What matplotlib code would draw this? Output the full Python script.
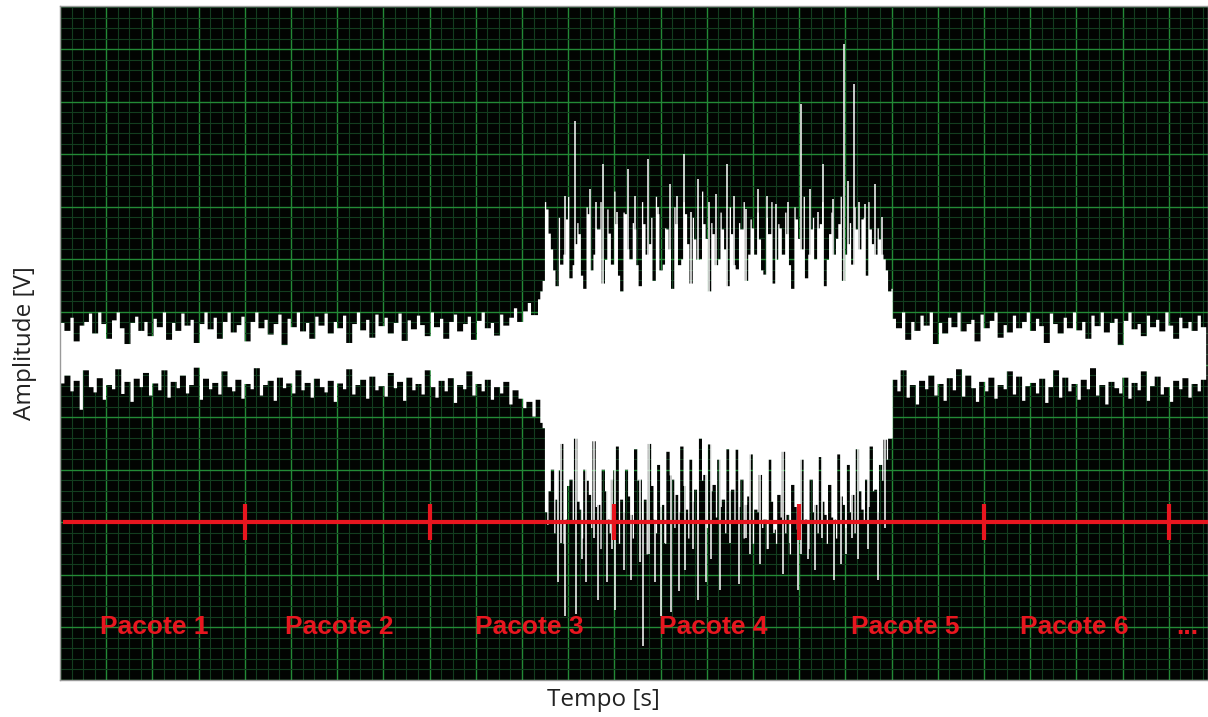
import numpy as np
import matplotlib
matplotlib.use("Agg")
import matplotlib.pyplot as plt

# ---- signal samples (amplitude offsets, in grid divisions), left quiet part ----
left_top = [0.60,0.45,0.70,0.25,0.55,0.62,0.78,0.40,0.80,0.58,
            0.30,0.65,0.80,0.50,0.20,0.60,0.72,0.45,0.62,0.35,
            0.68,0.52,0.80,0.28,0.60,0.45,0.78,0.55,0.66,0.22,
            0.58,0.80,0.48,0.70,0.30,0.62,0.80,0.42,0.56,0.72,
            0.25,0.62,0.80,0.50,0.66,0.38,0.58,0.76,0.18,0.68,
            0.52,0.80,0.44,0.60,0.30,0.72,0.55,0.78,0.40,0.62,
            0.50,0.74,0.22,0.58,0.80,0.46,0.66,0.32,0.76,0.54,
            0.70,0.40,0.60,0.78,0.26,0.65,0.48,0.74,0.56,0.35,
            0.80,0.52,0.68,0.30,0.62,0.76,0.44,0.58,0.72,0.28,
            0.64,0.80,0.50,0.60,0.36,0.76,0.55,0.70,0.88,0.62,
            0.82,0.98,0.75]
left_bot = [-0.55,-0.40,-0.70,-0.50,-1.05,-0.30,-0.62,-0.72,-0.45,-0.86,
            -0.58,-0.66,-0.28,-0.75,-0.52,-0.90,-0.46,-0.62,-0.35,-0.78,
            -0.55,-0.68,-0.30,-0.82,-0.52,-0.64,-0.40,-0.74,-0.58,-0.25,
            -0.86,-0.46,-0.66,-0.54,-0.76,-0.32,-0.62,-0.70,-0.48,-0.84,
            -0.56,-0.66,-0.26,-0.78,-0.58,-0.50,-0.88,-0.44,-0.64,-0.55,
            -0.74,-0.30,-0.68,-0.54,-0.82,-0.46,-0.62,-0.72,-0.50,-0.90,
            -0.55,-0.66,-0.28,-0.76,-0.58,-0.48,-0.84,-0.42,-0.68,-0.60,
            -0.80,-0.35,-0.64,-0.52,-0.88,-0.44,-0.68,-0.56,-0.76,-0.30,
            -0.62,-0.82,-0.50,-0.70,-0.45,-0.92,-0.58,-0.66,-0.32,-0.78,
            -0.56,-0.70,-0.48,-0.86,-0.62,-0.74,-0.52,-0.95,-0.68,-0.84,
            -1.02,-0.90,-1.18]

# ---- burst part (main samples) ----
burst_top = [1.05,1.40,2.76,2.00,1.30,1.71,2.57,1.45,2.10,2.29,
             1.25,2.67,1.90,2.38,1.35,2.76,1.71,2.48,1.20,2.67,
             1.81,2.38,1.30,2.48,2.10,1.40,2.67,1.71,2.38,1.25,
             2.48,1.81,2.67,1.35,2.19,1.81,2.48,1.20,2.29,1.81,
             2.38,1.30,2.29,1.62,2.38,1.40,2.57,1.90,2.19,1.52,
             2.29,1.35,2.48,1.90,2.29,1.25,2.57,2.00,1.45,2.38,
             1.81,2.48,1.30,2.29,1.90,2.48,1.40,2.10,1.71,2.38,
             2.57,1.50,2.38,1.90,2.19,1.81,1.20]
burst_bot = [-0.86,-1.40,-3.24,-2.19,-2.76,-1.70,-3.14,-2.38,-1.60,-2.95,
             -2.19,-2.67,-1.65,-2.86,-2.19,-3.14,-2.38,-1.75,-2.76,-2.19,
             -3.05,-1.80,-2.38,-2.76,-1.70,-3.14,-2.10,-2.86,-1.85,-2.38,
             -2.67,-1.75,-2.95,-2.00,-2.57,-1.60,-2.29,-1.71,-2.48,-2.00,
             -2.76,-1.80,-2.57,-1.81,-2.38,-2.86,-1.90,-2.95,-2.29,-3.14,
             -2.00,-3.33,-2.67,-1.85,-3.05,-2.48,-3.33,-2.00,-3.14,-2.38,
             -2.86,-1.95,-3.05,-2.48,-3.14,-1.90,-2.86,-2.10,-2.67,-1.80,
             -2.95,-2.38,-1.75,-2.57,-2.10,-1.62,-1.60]

# ---- burst part (samples in between the main ones) ----
burst_top_mid = [1.20,2.90,2.30,1.60,2.60,1.90,3.00,1.70,2.50,1.50,
                 2.80,1.60,2.40,2.90,1.80,2.30,3.10,1.50,2.70,2.00,
                 2.50,1.70,2.90,1.90,2.60,3.00,1.60,2.40,2.00,2.80,
                 1.70,2.90,2.10,2.60,1.80,3.10,2.20,2.50,1.70,2.70,
                 2.00,2.80,1.70,2.50,2.90,1.90,2.40,2.70,1.60,2.60,
                 2.90,1.80,2.40,2.70,1.70,2.80,2.20,3.00,1.90,2.60,
                 2.40,2.90,1.80,2.70,2.20,3.00,1.90,2.50,2.80,2.00,
                 2.60,2.90,2.10,2.40,1.90,1.60,1.25]
burst_bot_mid = [-1.30,-3.00,-2.60,-3.40,-2.20,-3.60,-2.50,-3.20,-2.80,-3.50,
                 -2.40,-3.30,-2.90,-3.70,-2.60,-3.40,-2.20,-3.60,-3.00,-2.70,
                 -3.50,-2.40,-3.20,-3.80,-2.50,-3.40,-2.90,-3.60,-2.30,-3.30,
                 -3.00,-2.50,-3.50,-2.80,-3.20,-2.40,-3.30,-2.60,-3.10,-2.90,
                 -3.40,-2.60,-3.20,-2.90,-3.50,-2.70,-3.60,-3.00,-3.30,-3.70,
                 -2.80,-3.60,-3.10,-3.40,-3.80,-2.90,-3.50,-3.20,-3.70,-3.00,
                 -3.40,-2.80,-3.60,-3.10,-3.50,-2.70,-3.30,-3.00,-3.40,-2.60,
                 -3.20,-2.90,-2.60,-3.00,-2.40,-2.00,-1.60]

# ---- right quiet part ----
right_top = [0.68,0.50,0.80,0.28,0.62,0.45,0.74,0.55,0.80,0.20,
             0.60,0.40,0.70,0.52,0.80,0.44,0.58,0.66,0.25,0.76,
             0.50,0.64,0.80,0.32,0.56,0.42,0.74,0.50,0.62,0.80,
             0.45,0.68,0.54,0.22,0.78,0.58,0.40,0.70,0.50,0.80,
             0.46,0.62,0.30,0.74,0.54,0.80,0.42,0.60,0.68,0.18,
             0.64,0.80,0.48,0.58,0.35,0.74,0.52,0.66,0.44,0.80,
             0.55,0.30,0.70,0.50,0.62,0.45,0.74,0.52]
right_bot = [-0.48,-0.70,-0.30,-0.82,-0.58,-0.95,-0.50,-0.66,-0.40,-0.78,
             -0.56,-0.88,-0.45,-0.68,-0.28,-0.80,-0.40,-0.64,-0.90,-0.52,
             -0.70,-0.44,-0.84,-0.58,-0.66,-0.32,-0.76,-0.42,-0.88,-0.60,
             -0.54,-0.74,-0.46,-0.92,-0.62,-0.30,-0.82,-0.44,-0.70,-0.56,
             -0.86,-0.48,-0.66,-0.26,-0.78,-0.58,-0.95,-0.52,-0.64,-0.74,
             -0.44,-0.84,-0.54,-0.68,-0.32,-0.88,-0.60,-0.42,-0.76,-0.62,
             -0.90,-0.50,-0.66,-0.45,-0.82,-0.56,-0.70,-0.48]

# ---- tall thin spikes in the burst ----
spike_up_t = [10.93,11.15,11.47,11.75,12.29,12.73,13.20,13.51,13.81,14.20,14.44,
              14.85,15.11,15.50,16.04,16.23,16.52,16.73,16.97,17.19,17.42,17.64,
              11.00,11.60,12.05,12.45,12.95,13.35,13.65,14.05,14.60,15.30,15.75,
              16.40,17.05,17.30,17.80]
spike_up_v = [3.01,4.44,3.14,3.62,3.52,3.71,3.24,3.81,3.33,3.05,3.62,
              2.76,3.14,2.86,4.76,3.14,3.62,2.95,5.90,5.14,2.86,3.24,
              2.40,2.90,2.70,3.00,2.80,3.00,2.70,2.90,3.00,3.00,2.90,
              2.70,3.30,2.90,2.60]
spike_dn_t = [10.78,10.93,11.17,11.39,11.65,11.84,12.01,12.21,12.55,12.62,12.88,
              13.01,13.23,13.53,13.81,13.98,14.29,14.70,14.94,15.32,15.65,15.97,
              16.19,16.34,16.75,17.01,17.27,17.71,
              10.85,11.30,11.55,11.95,12.35,12.75,13.10,13.40,13.70,14.10,14.50,
              14.85,15.15,15.45,15.80,16.05,16.50,16.90,17.15,17.50,17.85]
spike_dn_v = [-4.34,-4.99,-4.95,-4.34,-4.67,-4.34,-4.86,-4.10,-3.96,-5.56,-4.34,
              -4.99,-4.91,-4.10,-4.67,-4.34,-4.48,-4.38,-3.81,-3.71,-4.19,-4.48,
              -3.90,-4.10,-4.29,-3.81,-3.90,-4.29,
              -3.60,-3.90,-3.50,-3.70,-4.30,-3.80,-3.60,-4.50,-3.70,-3.90,-3.60,
              -3.50,-4.00,-3.40,-3.60,-3.80,-3.50,-4.00,-3.50,-3.70,-3.30]

# ---- packet annotation ----
packet_bounds = [4, 8, 12, 16, 20, 24]
packet_labels = ["Pacote 1", "Pacote 2", "Pacote 3", "Pacote 4", "Pacote 5", "Pacote 6", "..."]
packet_label_t = [2.03, 6.04, 10.15, 14.13, 18.30, 21.95, 24.40]
packet_line_y = -3.2
packet_label_y = -5.2

RED = "#e8161f"

# sample times: 0.1-division step, burst has an extra sample halfway
t_left = 0.05 + 0.1 * np.arange(len(left_top))
t_burst = t_left[-1] + 0.1 + 0.1 * np.arange(len(burst_top))
t_burst_mid = t_burst + 0.05
t_right = t_burst[-1] + 0.1 + 0.1 * np.arange(len(right_top))

t_all = np.concatenate([t_left, t_burst, t_burst_mid, t_right])
top_all = np.array(left_top + burst_top + burst_top_mid + right_top)
bot_all = np.array(left_bot + burst_bot + burst_bot_mid + right_bot)
w_all = np.concatenate([np.full(len(t_left), 0.07), np.full(len(t_burst), 0.028),
                        np.full(len(t_burst_mid), 0.028), np.full(len(t_right), 0.07)])
order = np.argsort(t_all)
t, top, bot, wd = t_all[order], top_all[order], bot_all[order], w_all[order]

# thin sample columns; gaps between neighbours filled up to the smaller one
edges, hi, lo = [t[0] - 0.05], [top[0]], [bot[0]]
for i in range(len(t)):
    j = min(i + 1, len(t) - 1)
    edges += [t[i] - wd[i] / 2, t[i] + wd[i] / 2]
    hi += [top[i], min(top[i], top[j])]
    lo += [bot[i], max(bot[i], bot[j])]
edges.append(t[-1] + 0.05)
hi.append(hi[-1])
lo.append(lo[-1])

fig = plt.figure(figsize=(12.08, 7.17), dpi=100)
ax = fig.add_axes([60/1208, 37/717, 1148/1208, 674/717])
ax.set_facecolor("#020402")
ax.set_xlim(0, 24.85)
ax.set_ylim(-6.2, 6.62)
ax.set_xticks(np.arange(0, 25, 1.0))
ax.set_xticks(np.arange(0, 24.9, 0.25), minor=True)
ax.set_yticks(np.arange(-6.2, 6.7, 1.0))
ax.set_yticks(np.arange(-6.2, 6.7, 0.2), minor=True)
ax.tick_params(which="both", length=0, labelleft=False, labelbottom=False)
ax.grid(which="minor", color="#133d1f", lw=0.8)
ax.grid(which="major", color="#238a36", lw=1.0)
ax.set_axisbelow(True)
for s in ax.spines.values():
    s.set_color("#9a9a9a")
    s.set_linewidth(1.0)

ax.fill_between(edges, lo, hi, step="post", color="white", lw=0, zorder=2)
ax.vlines(spike_up_t, 0, spike_up_v, color="white", lw=1.1, zorder=2)
ax.vlines(spike_dn_t, 0, spike_dn_v, color="white", lw=1.1, zorder=2)

ax.plot([0.06, 24.85], [packet_line_y, packet_line_y], color=RED, lw=3.0, zorder=3,
        solid_capstyle="butt")
ax.vlines(packet_bounds, packet_line_y - 0.34, packet_line_y + 0.34, color=RED, lw=3.0, zorder=3)
for lbl, xt in zip(packet_labels, packet_label_t):
    ax.text(xt, packet_label_y, lbl, color=RED, fontsize=19, fontweight="bold",
            family="Liberation Sans", ha="center", va="center", zorder=4)

ax.set_xlabel("Tempo [s]", fontsize=17.5, family="Open Sans", color="#222222", va="top")
ax.set_ylabel("Amplitude [V]", fontsize=17.5, family="Open Sans", color="#222222")
ax.xaxis.set_label_coords(0.473, -0.012)
ax.yaxis.set_label_coords(-0.020, 0.50)

fig.savefig("out.png", dpi=100, facecolor="white")
